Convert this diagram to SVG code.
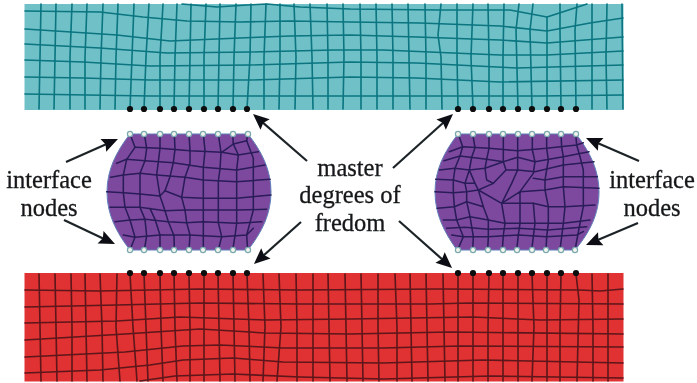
<svg xmlns="http://www.w3.org/2000/svg" width="697" height="383" viewBox="0 0 697 383">
<style>
.m{fill:none;stroke-linejoin:round;stroke-linecap:round}
.tm{stroke:#08757f;stroke-width:1.6}
.rm{stroke:#5c171b;stroke-width:1.6}
.pm{stroke:#2a1b58;stroke-width:4.6}
.b{fill:#0e0e0e}
.w{fill:#f4f4ee;stroke:#79a9ae;stroke-width:1.2}
.t{font-family:"Liberation Serif","Times New Roman",serif;font-size:24.5px;fill:#16181a;stroke:#16181a;stroke-width:.3;text-anchor:middle}
.a{stroke:#1b2326;stroke-width:2.2;fill:none;marker-end:url(#h)}
.pf{fill:#7c4a9f;stroke:#5f7fb8;stroke-width:1}
</style>
<defs>
<marker id="h" markerUnits="userSpaceOnUse" viewBox="-12 -8 18 16" refX="0" refY="0" markerWidth="18" markerHeight="16" orient="auto"><path d="M5 0L-11 -7L-8.500 0L-11 7Z" fill="#0d1012"/></marker>
<filter id="s" x="-2%" y="-2%" width="104%" height="104%"><feGaussianBlur stdDeviation="0.45"/></filter>
</defs>
<rect width="697" height="383" fill="#fff"/>
<g filter="url(#s)">
<g id="top-block">
<rect x="24.5" y="4" width="599" height="106" fill="#70c0c8"/>
<path class="m tm" d="M41 4L40 57L39 109M56 4L55 57L54 109M72 4L70 57L70 109M87 4L85 57L85 109M103 4L101 57L100 109M118 4L116 57L115 109M134 4L132 57L130 109M149 4L146 57L144 109M163 4L160 57L160 109M177 4L175 57L174 109M191 4L190 57L189 109M206 4L204 57L204 109M220 4L219 57L218 109M236 4L234 57L233 109M251 4L250 57L247 109M266 4L264 57L264 109M280 4L280 57L279 109M294 4L296 57L295 109M310 4L312 57L313 109M327 4L328 57L328 109M343 4L344 57L343 109M360 4L361 57L361 109M376 4L377 57L377 109M392 4L393 57L393 109M408 4L409 57L410 109M425 4L426 57L426 109M441 4L438 35L441 57L442 109M457 4L457 57L458 109M473 4L471 57L473 109M488 4L489 57L489 109M504 4L503 57L503 109M519 4L516 30L518 109M533 4L530 30L532 109M547 17L547 109M560 4L560 30L561 109M577 4L575 30L576 109M592 4L592 109M607 4L606 57L607 109M622 4L623 109"/>
<path class="m tm" d="M182 4L217 7L247 5L267 4L300 7L350 9L440 10L510 10L547 17L587 4M25 11L100 12L143 17L187 21L240 22L290 21L350 22L420 23L500 26L547 31L590 23L623 18M25 29L117 35L170 41L240 38L290 36L350 35L417 37L500 40L547 43L623 37M25 44L100 48L167 53L250 52L333 50L383 50L500 55L547 55L623 51M25 60L83 62L150 66L250 65L350 62L417 63L517 68L623 65M25 77L83 78L150 80L250 80L350 77L417 78L500 82L623 80M25 94L150 96L350 96L540 96L623 95"/>
</g>
<g id="bottom-block">
<rect x="24.5" y="273" width="599" height="108.500" fill="#e03130"/>
<path class="m rm" d="M39 274L40 327L41 381M55 274L56 327L57 381M71 274L72 327L72 381M85 274L86 327L87 381M100 274L102 327L103 381M117 274L116 327L120 381M130 274L133 327L137 381M144 274L146 327L148 381M160 274L161 327L163 381M174 274L175 327L177 381M189 274L190 327L190 381M204 274L204 327L204 381M218 274L219 327L220 381M233 274L234 327L235 381M247 274L249 327L250 381M263 274L265 327L263 381M279 274L281 327L277 381M296 274L297 327L297 381M313 274L313 327L313 381M328 274L329 327L330 381M345 274L346 327L347 381M361 274L362 327L363 381M378 274L378 327L379 381M395 274L397 327L397 381M410 274L411 327L412 381M426 274L427 327L428 381M443 274L444 327L445 381M458 274L458 327L458 381M473 274L473 327L473 381M489 274L488 327L488 381M503 274L503 327L503 381M518 274L518 327L518 381M532 274L534 327L532 381M547 274L547 327L547 381M561 274L560 327L560 381M576 274L579 300L577 381M592 274L593 327L593 381M608 274L608 327L608 381"/>
<path class="m rm" d="M25 290L100 291L200 289L300 290L440 289L580 290L600 291L623 289M25 307L117 305L200 303L300 304L430 304L470 303L623 304M25 323L117 321L180 317L265 320L350 319L473 317L540 320L623 319M25 340L125 334L200 329L265 333L350 334L450 332L623 334M25 357L125 352L183 346L220 345L283 348L383 348L460 346L623 347M25 373L100 370L150 365L183 360L233 358L283 362L383 363L483 360L623 363M140 381L175 376L233 374L300 377L383 379L490 376L623 378"/>
</g>
<g id="left-cell">
<path class="pf" d="M130 134L248 134C262 152 271 170 271 192C271 214 262 232 248 250L130 250C116 232 107 214 107 192C107 170 116 152 130 134Z"/>
<g transform="translate(90 120) scale(.33333)">
<path class="m pm" d="M135 82L210 85L300 92L395 97L430 72L470 62M80 130L110 118L165 122L250 128L340 142L440 150L525 135M62 172L100 165L150 160L200 165L285 172L340 180L440 185L540 178M50 215L100 218L150 222L210 228M225 212L275 232L340 235L440 235L543 225M60 262L105 262L150 262L225 272L285 270L340 270L440 270L530 268M75 305L120 300L165 298L235 305L290 308L340 305L440 310L515 305M100 345L135 352L210 345L300 345L395 350L470 345L490 325M395 97L445 105L505 95"/>
<path class="m pm" d="M120 42L135 82L110 118L100 165L100 218L105 262L120 300L135 352L120 390M163 42L170 85L165 122L150 160L150 222L150 262L165 298L170 348L163 390M210 42L210 85L205 125L200 165L210 228M253 42L255 88L250 128L240 170L225 212L210 228L225 272L235 305L252 347L253 390M210 390L210 345L195 298L180 265M297 42L300 92L300 130L285 172L275 232L285 270L290 308L300 345L297 390M340 42L345 92L340 142L340 180L340 235L340 270L340 305L340 347L340 390M385 42L393 97L390 147L385 183L385 235L385 270L385 308L395 350L385 390M428 42L430 72L445 105L440 150L440 185L440 235L440 270L440 310L435 348L428 390M473 42L470 62L490 115L490 185L490 230L490 270L480 308L470 345L473 390"/>
</g>
</g>
<g id="right-cell">
<path class="pf" d="M458 134L576 134C590 152 599 170 599 192C599 214 590 232 575 250L457 250C444 232 435 214 435 192C435 170 444 152 458 134Z"/>
<g transform="translate(420 120) scale(.33333)">
<path class="m pm" d="M88 95L128 80L207 85L293 92L380 85L470 75L490 68M72 122L120 108L200 118L250 125L293 112L345 125L430 110L507 95M58 150L105 145L148 150L195 145L250 125M293 150L345 155L430 135L522 125M47 178L100 180L135 190L165 190M340 175L375 180L430 170L532 170M45 215L100 218L140 215L175 210L245 250M300 215L375 210L430 200L537 205M52 265L103 260L140 245L190 260M245 250L340 250L385 260L435 260L525 255M70 300L110 300L150 290L205 300L255 310L345 310L430 310L510 300M80 325L135 322L205 328L295 325L385 330L500 320M95 345L130 350L205 350L295 345L380 350L470 345L490 335"/>
<path class="m pm" d="M115 42L128 80L120 108L105 145L100 180L100 218L103 260L110 300L130 350L113 390M158 42L165 83L155 112L148 150L135 190L140 215L140 245L150 290L160 350L158 390M207 42L207 85L200 118L195 145L200 180L220 190M250 42L250 88L250 125L258 150L220 190L175 210L165 190L150 155M293 42L293 92L293 150L275 190L245 250L255 310L250 345L247 390M203 390L205 350L205 300L190 260L175 210M337 42L337 90L345 125L340 160L300 215L245 250M290 390L295 345L300 310L300 215M335 390L340 350L345 310L340 250M293 150L258 150M380 42L380 85L385 120L375 180L375 210L385 260L385 310L380 350L378 390M423 42L425 82L430 110L430 160L430 200L435 260L430 310L420 390M467 42L470 75L480 110L490 150L490 200L490 260L480 310L465 390"/>
</g>
</g>
<g id="master-dofs-top-left" class="b"><circle cx="130" cy="109" r="3.100"/><circle cx="144" cy="109" r="3.100"/><circle cx="160" cy="109" r="3.100"/><circle cx="174" cy="109" r="3.100"/><circle cx="189" cy="109" r="3.100"/><circle cx="204" cy="109" r="3.100"/><circle cx="218" cy="109" r="3.100"/><circle cx="233" cy="109" r="3.100"/><circle cx="247" cy="109" r="3.100"/></g>
<g id="master-dofs-top-right" class="b"><circle cx="458" cy="109" r="3.100"/><circle cx="473" cy="109" r="3.100"/><circle cx="489" cy="109" r="3.100"/><circle cx="503" cy="109" r="3.100"/><circle cx="518" cy="109" r="3.100"/><circle cx="532" cy="109" r="3.100"/><circle cx="547" cy="109" r="3.100"/><circle cx="561" cy="109" r="3.100"/><circle cx="576" cy="109" r="3.100"/></g>
<g id="master-dofs-bottom-left" class="b"><circle cx="130" cy="273" r="3.100"/><circle cx="144" cy="273" r="3.100"/><circle cx="160" cy="273" r="3.100"/><circle cx="174" cy="273" r="3.100"/><circle cx="189" cy="273" r="3.100"/><circle cx="204" cy="273" r="3.100"/><circle cx="218" cy="273" r="3.100"/><circle cx="233" cy="273" r="3.100"/><circle cx="247" cy="273" r="3.100"/></g>
<g id="master-dofs-bottom-right" class="b"><circle cx="458" cy="273" r="3.100"/><circle cx="473" cy="273" r="3.100"/><circle cx="489" cy="273" r="3.100"/><circle cx="503" cy="273" r="3.100"/><circle cx="518" cy="273" r="3.100"/><circle cx="532" cy="273" r="3.100"/><circle cx="547" cy="273" r="3.100"/><circle cx="561" cy="273" r="3.100"/><circle cx="576" cy="273" r="3.100"/></g>
<g id="interface-nodes-left" class="w"><circle cx="130" cy="134" r="2.600"/><circle cx="144" cy="134" r="2.600"/><circle cx="160" cy="134" r="2.600"/><circle cx="174" cy="134" r="2.600"/><circle cx="189" cy="134" r="2.600"/><circle cx="203" cy="134" r="2.600"/><circle cx="218" cy="134" r="2.600"/><circle cx="233" cy="134" r="2.600"/><circle cx="248" cy="134" r="2.600"/><circle cx="130" cy="250" r="2.600"/><circle cx="144" cy="250" r="2.600"/><circle cx="160" cy="250" r="2.600"/><circle cx="174" cy="250" r="2.600"/><circle cx="189" cy="250" r="2.600"/><circle cx="203" cy="250" r="2.600"/><circle cx="218" cy="250" r="2.600"/><circle cx="233" cy="250" r="2.600"/><circle cx="248" cy="250" r="2.600"/></g>
<g id="interface-nodes-right" class="w"><circle cx="458" cy="134" r="2.600"/><circle cx="473" cy="134" r="2.600"/><circle cx="489" cy="134" r="2.600"/><circle cx="503" cy="134" r="2.600"/><circle cx="518" cy="134" r="2.600"/><circle cx="532" cy="134" r="2.600"/><circle cx="547" cy="134" r="2.600"/><circle cx="561" cy="134" r="2.600"/><circle cx="576" cy="134" r="2.600"/><circle cx="458" cy="250" r="2.600"/><circle cx="473" cy="250" r="2.600"/><circle cx="488" cy="250" r="2.600"/><circle cx="503" cy="250" r="2.600"/><circle cx="517" cy="250" r="2.600"/><circle cx="532" cy="250" r="2.600"/><circle cx="546" cy="250" r="2.600"/><circle cx="561" cy="250" r="2.600"/><circle cx="575" cy="250" r="2.600"/></g>
<g id="connectors">
<path class="a" d="M66 162L113.400 141"/>
<path class="a" d="M64 220L110.500 241.900"/>
<path class="a" d="M307 161L256.800 117.300"/>
<path class="a" d="M393 168L449.300 117.300"/>
<path class="a" d="M301 222L257.700 260.700"/>
<path class="a" d="M399 221L448.300 264.700"/>
<path class="a" d="M639 161L590.600 140"/>
<path class="a" d="M638 223L590.600 243"/>
</g>
<g id="label-left"><text class="t" x="49" y="188">interface</text><text class="t" x="49" y="216">nodes</text></g>
<g id="label-center"><text class="t" x="350" y="176">master</text><text class="t" x="350" y="203">degrees of</text><text class="t" x="350" y="231">fredom</text></g>
<g id="label-right"><text class="t" x="652" y="188">interface</text><text class="t" x="652" y="216">nodes</text></g>
</g>
</svg>
